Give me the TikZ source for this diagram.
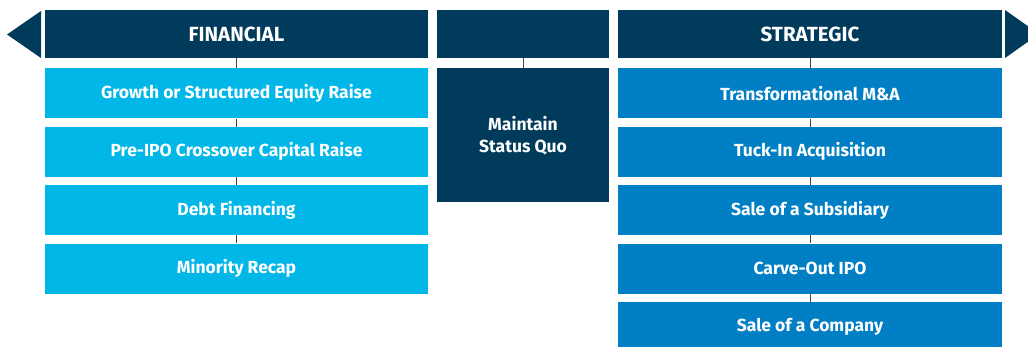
\documentclass[tikz,border=0pt]{standalone}
\usepackage{fontspec}
\setmainfont{Fira Sans}
\usetikzlibrary{positioning}

\definecolor{navy}{RGB}{0,59,92}
\definecolor{cyanbox}{RGB}{0,183,232}
\definecolor{bluebox}{RGB}{0,127,196}
\definecolor{linkgray}{RGB}{70,70,70}

\tikzset{
  header/.style={fill=navy,text=white,minimum height=48pt,inner sep=0pt,font=\fontsize{20.5}{24}\selectfont\bfseries},
  finbox/.style={fill=cyanbox,text=white,minimum width=383pt,minimum height=50pt,inner sep=0pt,font=\fontsize{17.5}{21}\selectfont\bfseries},
  stratbox/.style={fill=bluebox,text=white,minimum width=384pt,minimum height=50pt,inner sep=0pt,font=\fontsize{17.5}{21}\selectfont\bfseries},
  link/.style={draw=linkgray,line width=0.9pt}
}

\begin{document}
\begin{tikzpicture}[x=1pt,y=-1pt]

\useasboundingbox (0,0) rectangle (1028,346);
\clip (0,0) rectangle (1028,346);

\fill[navy] (41,11) -- (41,58) -- (7,34.5) -- cycle;
\fill[navy] (1005,10) -- (1005,58) -- (1039,34) -- cycle;

\node[header,minimum width=383pt] (hdrFin) at (236.5,34) {FINANCIAL};
\node[header,minimum width=172pt] (hdrMid) at (523,34) {};
\node[header,minimum width=384pt] (hdrStrat) at (810,34) {STRATEGIC};

\node[finbox,below=10pt of hdrFin] (fin1) {Growth or Structured Equity Raise};
\node[finbox,below=8pt of fin1] (fin2) {Pre-IPO Crossover Capital Raise};
\node[finbox,below=8pt of fin2] (fin3) {Debt Financing};
\node[finbox,below=8pt of fin3] (fin4) {Minority Recap};

\node[header,minimum width=172pt,minimum height=134pt,font=\fontsize{17.5}{22}\selectfont\bfseries,align=center,below=10pt of hdrMid] (quo) {Maintain\\Status Quo};

\node[stratbox,below=10pt of hdrStrat] (str1) {Transformational M\&A};
\node[stratbox,below=8pt of str1] (str2) {Tuck-In Acquisition};
\node[stratbox,below=8pt of str2] (str3) {Sale of a Subsidiary};
\node[stratbox,below=8pt of str3] (str4) {Carve-Out IPO};
\node[stratbox,below=8pt of str4] (str5) {Sale of a Company};

\draw[link] (hdrFin) -- (fin1);
\draw[link] (fin1) -- (fin2);
\draw[link] (fin2) -- (fin3);
\draw[link] (fin3) -- (fin4);

\draw[link] (hdrMid) -- (quo);

\draw[link] (hdrStrat) -- (str1);
\draw[link] (str1) -- (str2);
\draw[link] (str2) -- (str3);
\draw[link] (str3) -- (str4);
\draw[link] (str4) -- (str5);

\end{tikzpicture}
\end{document}
